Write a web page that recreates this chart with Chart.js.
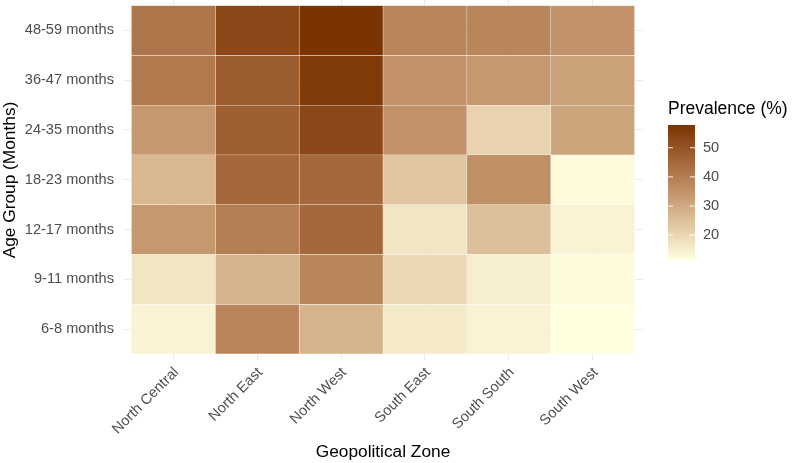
<!DOCTYPE html>
<html>
<head>
<meta charset="utf-8">
<script src="https://cdn.jsdelivr.net/npm/chart.js@4"></script>
<style>
  html, body { margin: 0; padding: 0; background: #fff; }
</style>
</head>
<body>
<canvas id="chart" width="797" height="463"></canvas>
<script>
// categories
const zones = ['North Central', 'North East', 'North West', 'South East', 'South South', 'South West']
// bottom to top
const ageGroups = ['6-8 months', '9-11 months', '12-17 months', '18-23 months', '24-35 months', '36-47 months', '48-59 months']

// prevalence (%) per zone, same order as ageGroups
const northCentral = [14, 17, 34, 27, 34, 41, 42]
const northEast = [38, 28, 40, 45, 47, 48, 53]
const northWest = [28, 38, 45, 45, 53, 56, 57.8]
const southEast = [16, 20, 17, 24, 35, 35, 38]
const southSouth = [14, 15, 25, 36, 21, 34, 38]
const southWest = [11.5, 12.5, 14, 12.5, 31, 32, 35]

const legendTicks = [20, 30, 40, 50]

const zoneValues = [northCentral, northEast, northWest, southEast, southSouth, southWest]
const allValues = zoneValues.flat()
const vMin = Math.min(...allValues)
const vMax = Math.max(...allValues)

const FONT = "'Liberation Sans', Arial, sans-serif"
const LOW = [255, 255, 224]
const HIGH = [123, 51, 0]

// colour interpolation in Lab, like ggplot's gradient
function toLab (rgb) {
  const lin = rgb.map(c => {
    c /= 255
    return c <= 0.04045 ? c / 12.92 : Math.pow((c + 0.055) / 1.055, 2.4)
  })
  const x = (0.4124 * lin[0] + 0.3576 * lin[1] + 0.1805 * lin[2]) / 0.95047
  const y = 0.2126 * lin[0] + 0.7152 * lin[1] + 0.0722 * lin[2]
  const z = (0.0193 * lin[0] + 0.1192 * lin[1] + 0.9505 * lin[2]) / 1.08883
  const f = t => t > 0.008856 ? Math.cbrt(t) : 7.787 * t + 16 / 116
  const fx = f(x), fy = f(y), fz = f(z)
  return [116 * fy - 16, 500 * (fx - fy), 200 * (fy - fz)]
}

function fromLab (lab) {
  const fy = (lab[0] + 16) / 116
  const fx = fy + lab[1] / 500
  const fz = fy - lab[2] / 200
  const inv = t => t > 0.206893 ? t * t * t : (t - 16 / 116) / 7.787
  const x = inv(fx) * 0.95047, y = inv(fy), z = inv(fz) * 1.08883
  const lin = [
    3.2406 * x - 1.5372 * y - 0.4986 * z,
    -0.9689 * x + 1.8758 * y + 0.0415 * z,
    0.0557 * x - 0.2040 * y + 1.0570 * z
  ]
  return lin.map(c => {
    c = c <= 0.0031308 ? 12.92 * c : 1.055 * Math.pow(c, 1 / 2.4) - 0.055
    return Math.round(Math.max(0, Math.min(1, c)) * 255)
  })
}

const lowLab = toLab(LOW)
const highLab = toLab(HIGH)

function colorFor (v) {
  const t = (v - vMin) / (vMax - vMin)
  const rgb = fromLab(lowLab.map((l, i) => l + (highLab[i] - l) * t))
  return `rgb(${rgb[0]},${rgb[1]},${rgb[2]})`
}

const datasets = zones.map((zone, zi) => ({
  label: zone,
  data: zoneValues[zi].map((v, ri) => ({ x: zi + 0.5, y: [ri, ri + 1] })),
  backgroundColor: zoneValues[zi].map(colorFor),
  borderColor: 'rgba(255,255,255,0.75)',
  borderWidth: 0.5,
  borderSkipped: false,
  grouped: false,
  categoryPercentage: 1,
  barPercentage: 1
}))

const colorbar = {
  id: 'colorbar',
  afterDraw (chart) {
    const ctx = chart.ctx
    const left = 668, width = 27, top = 125, bottom = 260
    const h = bottom - top
    for (let i = 0; i < h; i++) {
      const v = vMin + (vMax - vMin) * (1 - (i + 0.5) / h)
      ctx.fillStyle = colorFor(v)
      ctx.fillRect(left, top + i, width, 1)
    }
    ctx.save()
    ctx.font = `17.5px ${FONT}`
    ctx.fillStyle = '#000'
    ctx.textAlign = 'left'
    ctx.textBaseline = 'middle'
    ctx.fillText('Prevalence (%)', 668, 109)
    ctx.font = `14.6px ${FONT}`
    ctx.fillStyle = '#4D4D4D'
    legendTicks.forEach(t => {
      const y = bottom - (t - vMin) / (vMax - vMin) * h
      ctx.strokeStyle = 'rgba(255,255,255,0.9)'
      ctx.lineWidth = 1
      ctx.beginPath()
      ctx.moveTo(left, y); ctx.lineTo(left + 5, y)
      ctx.moveTo(left + width - 5, y); ctx.lineTo(left + width, y)
      ctx.stroke()
      ctx.fillText(String(t), 703, y)
    })
    ctx.restore()
  }
}

new Chart(document.getElementById('chart'), {
  type: 'bar',
  data: { datasets },
  options: {
    responsive: false,
    animation: false,
    layout: { padding: { top: 0, left: 0, right: 154, bottom: 0 } },
    plugins: {
      legend: { display: false },
      tooltip: { enabled: false }
    },
    scales: {
      x: {
        type: 'linear',
        min: -0.1,
        max: 6.1,
        offset: false,
        afterBuildTicks: axis => { axis.ticks = zones.map((_, i) => ({ value: i + 0.5 })) },
        afterFit: axis => {
          axis.height = 103
          axis.paddingLeft = 0
          axis.paddingRight = 0
        },
        grid: { color: '#EBEBEB', drawTicks: false, offset: false },
        border: { display: false },
        ticks: {
          autoSkip: false,
          minRotation: 45,
          maxRotation: 45,
          padding: 4,
          labelOffset: 3,
          color: '#4D4D4D',
          font: { family: FONT, size: 14.6 },
          callback: (v, i) => zones[i]
        },
        title: {
          display: true,
          text: 'Geopolitical Zone',
          color: '#000',
          font: { family: FONT, size: 17.3 },
          padding: { top: 0, bottom: 0 }
        }
      },
      y: {
        type: 'linear',
        min: -0.12,
        max: 7.11,
        afterBuildTicks: axis => { axis.ticks = ageGroups.map((_, i) => ({ value: i + 0.5 })) },
        afterFit: axis => {
          axis.width = 123
          axis.paddingTop = 0
          axis.paddingBottom = 0
        },
        grid: { color: '#EBEBEB', drawTicks: false },
        border: { display: false },
        ticks: {
          padding: 9,
          color: '#4D4D4D',
          font: { family: FONT, size: 14.6 },
          callback: (v, i) => ageGroups[i]
        },
        title: {
          display: true,
          text: 'Age Group (Months)',
          color: '#000',
          font: { family: FONT, size: 17.3 },
          padding: { top: 0, bottom: 0 }
        }
      }
    }
  },
  plugins: [colorbar]
})
</script>
</body>
</html>
